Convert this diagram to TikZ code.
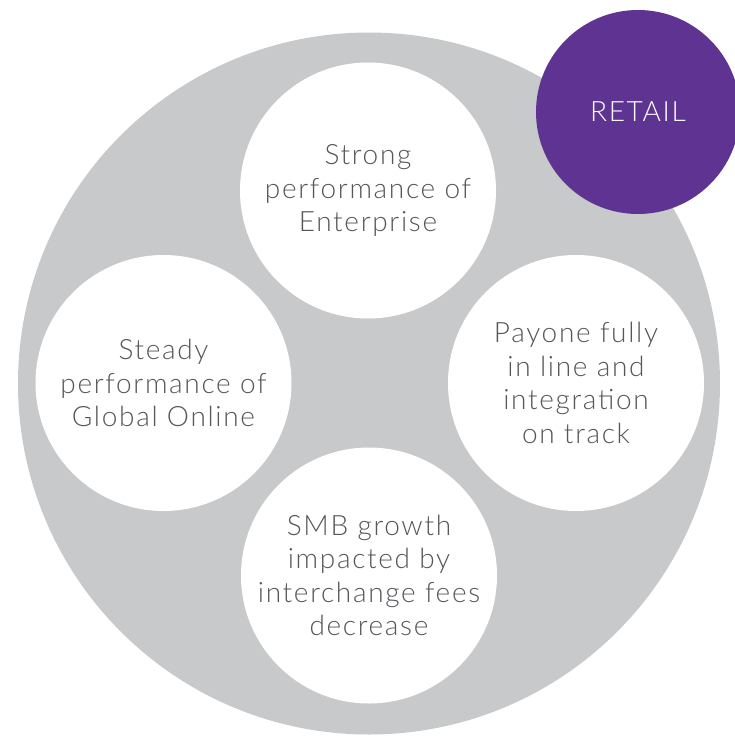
\documentclass[tikz,border=0pt]{standalone}
\usepackage{fontspec}
\setmainfont{Lato Light}[LetterSpace=6]
\definecolor{ringgray}{HTML}{C8C9CB}
\definecolor{retailpurple}{HTML}{5E3391}
\definecolor{textgray}{HTML}{55575B}
\begin{document}
\begin{tikzpicture}[x=1pt,y=-1pt,
  bubble/.style={circle,fill=white,minimum size=256pt,inner sep=0pt,
    align=center,text=textgray,font=\fontsize{28}{33.5}\selectfont},
  badge/.style={circle,fill=retailpurple,minimum size=204pt,inner sep=0pt,
    text=white,font=\fontsize{28}{33}\selectfont}]
\useasboundingbox (0,0) rectangle (735,737);
% outer disc
\node[circle,fill=ringgray,minimum size=702pt,inner sep=0pt] (ring) at (369,383.5) {};
% four topic bubbles
\node[bubble] (top) at (368,190.5) {Strong\\performance of\\Enterprise};
\node[bubble] (left) at (163.5,383) {Steady\\performance of\\Global Online};
\node[bubble] (right) at (576,383) {Payone fully\\in line and\\integration\\on track};
\node[bubble] (bottom) at (369,575.5) {SMB growth\\impacted by\\interchange fees\\decrease};
% segment badge
\node[badge] (retail) at (638,112) {RETAIL};
\end{tikzpicture}
\end{document}
